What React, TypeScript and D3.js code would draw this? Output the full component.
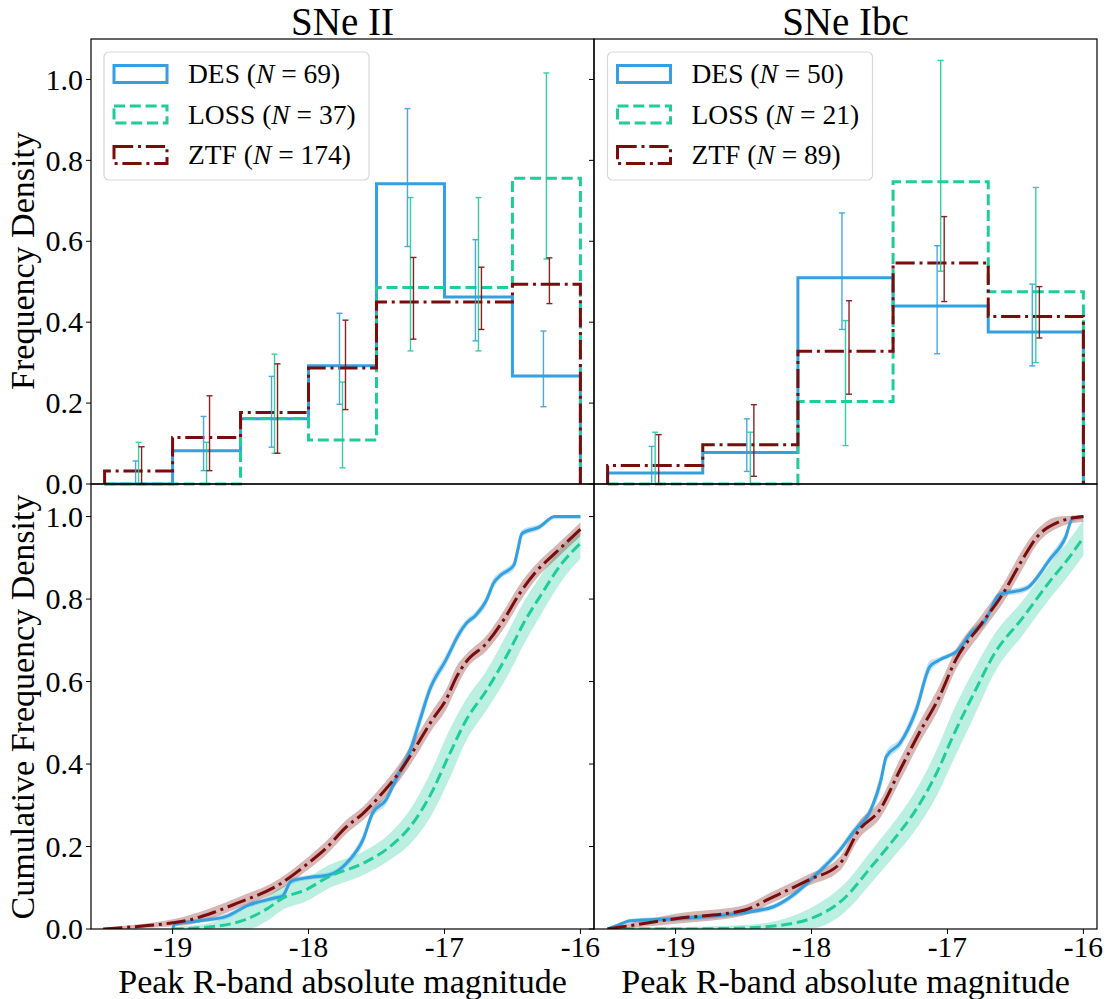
import React from 'react';
import * as d3 from 'd3';

const FONT = 'Liberation Serif, DejaVu Serif, serif';

// ---------- series meta ----------
const seriesNames = ['DES', 'LOSS', 'ZTF'];
const seriesColors = ['#35a0e0', '#1fcc9a', '#7a0c0c'];
const seriesDash = ['', '11,4.8', '19.2,4.8,3,4.8'];
const bandHalfPx = [2.5, 10.5, 5];
const bandOpacity = [0.3, 0.3, 0.3];
const countsII = [69, 37, 174];
const countsIbc = [50, 21, 89];
const panelTitles = ['SNe II', 'SNe Ibc'];

// ---------- axes ----------
const xDomain = [-19.6, -15.9];
const xTicks = [-19, -18, -17, -16];
const yTicks = [0, 0.2, 0.4, 0.6, 0.8, 1.0];
const yTopMax = 1.1;
const yBotMax = 1.079;

// ---------- histograms: SNe II ----------
const binEdgesII = [-19.5, -19.0, -18.5, -18.0, -17.5, -17.0, -16.5, -16.0];
const histDES_II = [0.0, 0.082, 0.161, 0.292, 0.742, 0.462, 0.267];
const histLOSS_II = [0.0, 0.0, 0.162, 0.109, 0.486, 0.486, 0.756];
const histZTF_II = [0.032, 0.115, 0.177, 0.287, 0.45, 0.45, 0.494];
const errLoDES_II = [0.0, 0.033, 0.091, 0.197, 0.587, 0.354, 0.191];
const errHiDES_II = [0.057, 0.167, 0.266, 0.422, 0.928, 0.604, 0.378];
const errLoLOSS_II = [0.0, 0.0, 0.076, 0.04, 0.329, 0.329, 0.556];
const errHiLOSS_II = [0.103, 0.103, 0.321, 0.252, 0.708, 0.708, 1.016];
const errLoZTF_II = [0.0, 0.033, 0.076, 0.184, 0.358, 0.382, 0.446];
const errHiZTF_II = [0.092, 0.218, 0.297, 0.405, 0.56, 0.536, 0.559];
const errOffsetII = [-0.022, 0, 0.022];

// ---------- histograms: SNe Ibc ----------
const binEdgesIbc = [-19.5, -18.8, -18.1, -17.4, -16.7, -16.0];
const histDES_Ibc = [0.027, 0.078, 0.51, 0.44, 0.376];
const histLOSS_Ibc = [0.0, 0.0, 0.204, 0.747, 0.475];
const histZTF_Ibc = [0.046, 0.097, 0.328, 0.546, 0.414];
const errLoDES_Ibc = [0.0, 0.031, 0.382, 0.322, 0.292];
const errHiDES_Ibc = [0.093, 0.161, 0.67, 0.589, 0.494];
const errLoLOSS_Ibc = [0.0, 0.0, 0.095, 0.526, 0.3];
const errHiLOSS_Ibc = [0.128, 0.128, 0.404, 1.047, 0.733];
const errLoZTF_Ibc = [0.0, 0.019, 0.222, 0.451, 0.361];
const errHiZTF_Ibc = [0.122, 0.196, 0.453, 0.661, 0.488];
const errOffsetIbc = [-0.026, 0, 0.026];

// ---------- cumulative: SNe II ([mag, value]) ----------
const cumDES_II: [number, number][] = [
  [-19.0, 0.0], [-18.98, 0.012], [-18.8, 0.02], [-18.61, 0.03], [-18.44, 0.058],
  [-18.25, 0.075], [-18.19, 0.08], [-18.13, 0.115], [-18.0, 0.125], [-17.85, 0.131],
  [-17.7, 0.167], [-17.6, 0.216], [-17.53, 0.28], [-17.43, 0.313], [-17.35, 0.368],
  [-17.26, 0.426], [-17.18, 0.507], [-17.11, 0.579], [-16.99, 0.652], [-16.89, 0.717],
  [-16.84, 0.741], [-16.77, 0.761], [-16.69, 0.798], [-16.64, 0.838], [-16.586, 0.858],
  [-16.49, 0.882], [-16.46, 0.92], [-16.43, 0.959], [-16.3, 0.975], [-16.19, 1.0], [-16.0, 1.0],
];
const cumLOSS_II: [number, number][] = [
  [-19.0, 0.0], [-18.85, 0.002], [-18.7, 0.006], [-18.47, 0.022], [-18.3, 0.05],
  [-18.19, 0.075], [-18.02, 0.095], [-17.85, 0.127], [-17.6, 0.159], [-17.4, 0.2],
  [-17.26, 0.245], [-17.11, 0.321], [-16.96, 0.426], [-16.84, 0.507], [-16.69, 0.579],
  [-16.52, 0.676], [-16.42, 0.74], [-16.29, 0.81], [-16.135, 0.887], [-16.0, 0.935],
];
const cumZTF_II: [number, number][] = [
  [-19.51, 0.0], [-19.3, 0.005], [-19.0, 0.015], [-18.89, 0.021], [-18.7, 0.04],
  [-18.53, 0.062], [-18.22, 0.107], [-18.0, 0.16], [-17.88, 0.193], [-17.72, 0.248],
  [-17.6, 0.28], [-17.48, 0.321], [-17.33, 0.381], [-17.21, 0.442], [-17.09, 0.507],
  [-16.99, 0.555], [-16.91, 0.612], [-16.84, 0.648], [-16.69, 0.693], [-16.55, 0.757],
  [-16.45, 0.812], [-16.33, 0.865], [-16.19, 0.91], [-16.0, 0.969],
];

// ---------- cumulative: SNe Ibc ----------
const cumDES_Ibc: [number, number][] = [
  [-19.5, 0.0], [-19.42, 0.01], [-19.33, 0.02], [-19.0, 0.025], [-18.54, 0.038],
  [-18.28, 0.054], [-18.12, 0.086], [-17.97, 0.131], [-17.79, 0.192], [-17.7, 0.232],
  [-17.55, 0.3], [-17.49, 0.36], [-17.45, 0.418], [-17.35, 0.45], [-17.23, 0.531],
  [-17.13, 0.636], [-17.06, 0.652], [-16.91, 0.68], [-16.84, 0.713], [-16.72, 0.749],
  [-16.62, 0.81], [-16.42, 0.826], [-16.25, 0.895], [-16.13, 0.951], [-16.08, 0.996], [-16.0, 1.0],
];
const cumLOSS_Ibc: [number, number][] = [
  [-19.5, 0.0], [-19.0, 0.0], [-18.54, 0.002], [-18.23, 0.009], [-17.97, 0.03],
  [-17.78, 0.068], [-17.55, 0.155], [-17.4, 0.215], [-17.23, 0.29], [-17.06, 0.392],
  [-16.97, 0.46], [-16.8, 0.575], [-16.65, 0.67], [-16.45, 0.753], [-16.24, 0.846],
  [-16.13, 0.89], [-16.0, 0.949],
];
const cumZTF_Ibc: [number, number][] = [
  [-19.5, 0.0], [-19.3, 0.01], [-19.0, 0.025], [-18.49, 0.046], [-18.3, 0.075],
  [-18.02, 0.119], [-17.79, 0.159], [-17.65, 0.24], [-17.5, 0.288], [-17.35, 0.385],
  [-17.21, 0.474], [-17.06, 0.563], [-16.94, 0.652], [-16.75, 0.74], [-16.59, 0.814],
  [-16.45, 0.895], [-16.34, 0.951], [-16.18, 0.987], [-16.0, 1.0],
];

// ---------- layout ----------
const W = 1119;
const H = 999;
const panelX = [[91, 594], [594, 1097]];
const topY = [39, 484];
const botY = [484, 929];

type Scale = d3.ScaleLinear<number, number>;

function StepHist({ edges, vals, x, y, color, dash }: any) {
  const pts: [number, number][] = [[x(edges[0]), y(0)]];
  vals.forEach((v: number, i: number) => {
    pts.push([x(edges[i]), y(v)]);
    pts.push([x(edges[i + 1]), y(v)]);
  });
  pts.push([x(edges[edges.length - 1]), y(0)]);
  return (
    <path d={d3.line()(pts) || ''} fill="none" stroke={color} strokeWidth={3}
      strokeDasharray={dash || undefined} strokeLinejoin="miter" />
  );
}

function ErrBars({ edges, lo, hi, off, x, y, color }: any) {
  return (
    <g stroke={color} strokeWidth={1.4} opacity={0.9}>
      {lo.map((l: number, i: number) => {
        const c = (edges[i] + edges[i + 1]) / 2 + off;
        const cx = x(c);
        return (
          <g key={i}>
            <line x1={cx} x2={cx} y1={y(l)} y2={y(hi[i])} />
            <line x1={cx - 3} x2={cx + 3} y1={y(l)} y2={y(l)} />
            <line x1={cx - 3} x2={cx + 3} y1={y(hi[i])} y2={y(hi[i])} />
          </g>
        );
      })}
    </g>
  );
}

function Legend({ left, counts }: { left: number; counts: number[] }) {
  const top = 52;
  const rows = [74, 114.5, 155];
  return (
    <g>
      <rect x={left} y={top} width={265} height={128} rx={5} fill="white" fillOpacity={0.8}
        stroke="#d8d8d8" strokeWidth={1.2} />
      {seriesNames.map((n, i) => (
        <g key={n}>
          <rect x={left + 10} y={rows[i] - 8.5} width={53} height={17} fill="none"
            stroke={seriesColors[i]} strokeWidth={3} strokeDasharray={seriesDash[i] || undefined} />
          <text x={left + 84} y={rows[i] + 9} fontFamily={FONT} fontSize={27.5} fill="#000">
            {n} (<tspan fontStyle="italic">N</tspan> = {counts[i]})
          </text>
        </g>
      ))}
    </g>
  );
}

function YAxis({ x0, y, labels }: { x0: number; y: Scale; labels: boolean }) {
  const fmt = d3.format('.1f');
  return (
    <g>
      {yTicks.map((t) => (
        <g key={t}>
          <line x1={x0 - 5} x2={x0} y1={y(t)} y2={y(t)} stroke="#000" strokeWidth={1} />
          {labels && (
            <text x={x0 - 8} y={y(t)} dy="0.34em" textAnchor="end" fontFamily={FONT}
              fontSize={30}>{fmt(t)}</text>
          )}
        </g>
      ))}
    </g>
  );
}

function XAxis({ x, y0 }: { x: Scale; y0: number }) {
  return (
    <g>
      {xTicks.map((t) => (
        <g key={t}>
          <line x1={x(t)} x2={x(t)} y1={y0} y2={y0 + 5} stroke="#000" strokeWidth={1} />
          <text x={x(t)} y={957} textAnchor="middle" fontFamily={FONT} fontSize={29.5}>
            {String(t)}
          </text>
        </g>
      ))}
    </g>
  );
}

function Panel({ idx }: { idx: number }) {
  const [x0, x1] = panelX[idx];
  const x = d3.scaleLinear().domain(xDomain).range([x0, x1]);
  const yT = d3.scaleLinear().domain([0, yTopMax]).range([topY[1], topY[0]]);
  const yB = d3.scaleLinear().domain([0, yBotMax]).range([botY[1], botY[0]]);
  const isII = idx === 0;
  const edges = isII ? binEdgesII : binEdgesIbc;
  const hists = isII ? [histDES_II, histLOSS_II, histZTF_II] : [histDES_Ibc, histLOSS_Ibc, histZTF_Ibc];
  const errLo = isII ? [errLoDES_II, errLoLOSS_II, errLoZTF_II] : [errLoDES_Ibc, errLoLOSS_Ibc, errLoZTF_Ibc];
  const errHi = isII ? [errHiDES_II, errHiLOSS_II, errHiZTF_II] : [errHiDES_Ibc, errHiLOSS_Ibc, errHiZTF_Ibc];
  const offs = isII ? errOffsetII : errOffsetIbc;
  const cums = isII ? [cumDES_II, cumLOSS_II, cumZTF_II] : [cumDES_Ibc, cumLOSS_Ibc, cumZTF_Ibc];
  const line = d3.line<[number, number]>().x((d) => x(d[0])).y((d) => yB(d[1])).curve(d3.curveMonotoneX);

  const band = (c: [number, number][], i: number) => {
    const X = c.map((d) => x(d[0]));
    const Y = c.map((d) => yB(d[1]));
    const yOne = yB(1.0);
    const half = c.map((d, k) => {
      const a = Math.max(0, k - 1);
      const b = Math.min(c.length - 1, k + 1);
      const s = (Y[b] - Y[a]) / (X[b] - X[a] || 1);
      const taper = Math.min(1, 0.2 + d[1] / 0.03);
      return bandHalfPx[i] * taper * Math.min(3.5, Math.sqrt(1 + s * s));
    });
    const area = d3.area<number>()
      .x((k) => X[k])
      .y0((k) => Y[k] + half[k])
      .y1((k) => Math.max(yOne - 1, Y[k] - half[k]))
      .curve(d3.curveMonotoneX);
    return area(d3.range(c.length)) || '';
  };

  const clipId = `clipBot${idx}`;
  const cx = (x0 + x1) / 2;
  return (
    <g>
      <defs>
        <clipPath id={clipId}>
          <rect x={x0} y={botY[0]} width={x1 - x0} height={botY[1] - botY[0]} />
        </clipPath>
      </defs>
      {/* top panel */}
      {hists.map((h, i) => (
        <StepHist key={i} edges={edges} vals={h} x={x} y={yT} color={seriesColors[i]} dash={seriesDash[i]} />
      ))}
      {hists.map((h, i) => (
        <ErrBars key={'e' + i} edges={edges} lo={errLo[i]} hi={errHi[i]} off={offs[i]} x={x} y={yT}
          color={seriesColors[i]} />
      ))}
      {/* bottom panel */}
      <g clipPath={`url(#${clipId})`}>
        {cums.map((c, i) => (
          <path key={'b' + i} d={band(c, i)} fill={seriesColors[i]} fillOpacity={bandOpacity[i]} stroke="none" />
        ))}
        {cums.map((c, i) => (
          <path key={'l' + i} d={line(c) || ''} fill="none" stroke={seriesColors[i]}
            strokeWidth={3} strokeDasharray={seriesDash[i] || undefined} />
        ))}
      </g>
      {/* frames */}
      <rect x={x0} y={topY[0]} width={x1 - x0} height={topY[1] - topY[0]} fill="none" stroke="#000" strokeWidth={1.2} />
      <rect x={x0} y={botY[0]} width={x1 - x0} height={botY[1] - botY[0]} fill="none" stroke="#000" strokeWidth={1.2} />
      <YAxis x0={x0} y={yT} labels={isII} />
      <YAxis x0={x0} y={yB} labels={isII} />
      <XAxis x={x} y0={botY[1]} />
      <Legend left={isII ? 104 : 607.5} counts={isII ? countsII : countsIbc} />
      <text x={cx} y={35} textAnchor="middle" fontFamily={FONT} fontSize={39}>{panelTitles[idx]}</text>
      <text x={cx} y={993} textAnchor="middle" fontFamily={FONT} fontSize={34}>Peak R-band absolute magnitude</text>
    </g>
  );
}

export default function App() {
  return (
    <svg width={W} height={H} viewBox={`0 0 ${W} ${H}`}
      style={{ position: 'absolute', left: 0, top: 0, background: '#fff' }}>
      <rect x={0} y={0} width={W} height={H} fill="#fff" />
      <Panel idx={0} />
      <Panel idx={1} />
      <text transform="translate(34,261) rotate(-90)" textAnchor="middle" fontFamily={FONT} fontSize={34}>
        Frequency Density
      </text>
      <text transform="translate(34,707) rotate(-90)" textAnchor="middle" fontFamily={FONT} fontSize={34}>
        Cumulative Frequency Density
      </text>
    </svg>
  );
}
